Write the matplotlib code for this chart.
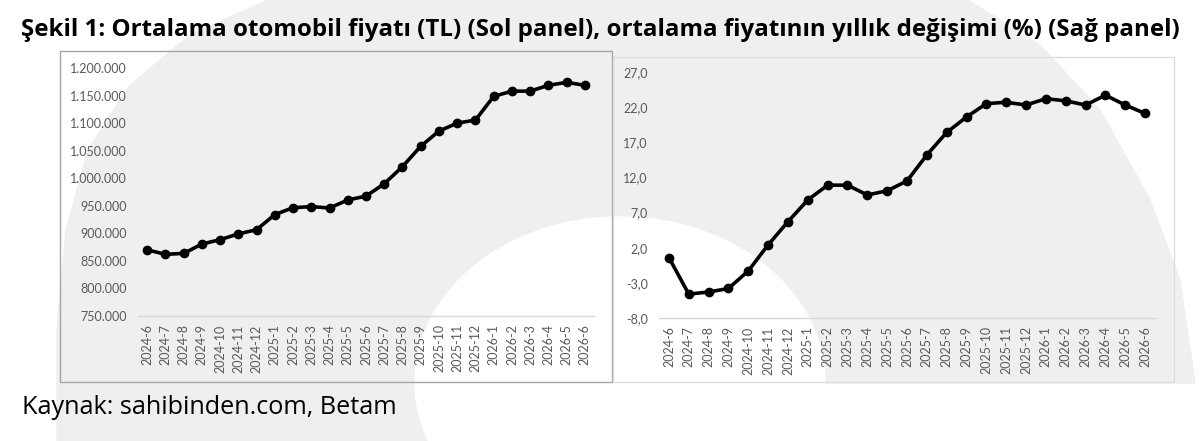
import matplotlib.pyplot as plt
from matplotlib.patches import Ellipse, Rectangle, Polygon
from matplotlib.ticker import FuncFormatter

# === data ===
months = ["2024-6", "2024-7", "2024-8", "2024-9", "2024-10", "2024-11", "2024-12",
          "2025-1", "2025-2", "2025-3", "2025-4", "2025-5", "2025-6", "2025-7",
          "2025-8", "2025-9", "2025-10", "2025-11", "2025-12", "2026-1", "2026-2",
          "2026-3", "2026-4", "2026-5", "2026-6"]

avg_price = [870000, 862000, 863500, 880500, 888500, 899000, 906500,
             934000, 946500, 948500, 946000, 960500, 967500, 990000,
             1021000, 1058000, 1085500, 1100000, 1105500, 1148500, 1158000,
             1158000, 1168500, 1174000, 1168500]

yoy_change = [0.6, -4.6, -4.3, -3.8, -1.3, 2.4, 5.7,
              8.8, 10.9, 10.9, 9.5, 10.1, 11.5, 15.2,
              18.4, 20.6, 22.5, 22.7, 22.3, 23.2, 22.9,
              22.3, 23.7, 22.3, 21.1]

left_ticks = [750000, 800000, 850000, 900000, 950000, 1000000, 1050000,
              1100000, 1150000, 1200000]
right_ticks = [-8.0, -3.0, 2.0, 7.0, 12.0, 17.0, 22.0, 27.0]

W, H = 1200, 441
plt.rcParams['font.family'] = ['Lato', 'DejaVu Sans']

fig = plt.figure(figsize=(W / 100, H / 100), dpi=100)


def fx(px):
    return px / W


def fy(py):
    return 1 - py / H


# === watermark swoosh in the background (pixel outline) ===
outline = [(57, 441), (57, 330), (66, 230), (88, 150), (130, 85), (190, 35), (268, 0),
           (968, 0), (1040, 45), (1100, 110), (1150, 200), (1180, 280), (1195, 383),
           (620, 383), (620, 441)]
fig.patches.append(Polygon([(fx(x), fy(y)) for x, y in outline], closed=True,
                           transform=fig.transFigure, color="#efefef", zorder=-2))
fig.patches.append(Ellipse((fx(620), fy(382)), 410 / W, 330 / H,
                           transform=fig.transFigure, color="white", zorder=-1))

# panel frames
fig.patches.append(Rectangle((fx(60), fy(382)), 552 / W, 331 / H, transform=fig.transFigure,
                             fill=False, edgecolor="#a6a6a6", lw=1.0, zorder=1))
fig.patches.append(Rectangle((fx(613), fy(382)), 561 / W, 325 / H, transform=fig.transFigure,
                             fill=False, edgecolor="#dcdcdc", lw=1.0, zorder=1))

label_color = "#595959"


def style_axis(ax, ticks, ylim, fmt):
    x = range(len(months))
    ax.set_zorder(3)
    ax.set_facecolor("none")
    ax.set_xlim(-0.5, len(months) - 0.5)
    ax.set_ylim(*ylim)
    ax.set_yticks(ticks)
    ax.yaxis.set_major_formatter(FuncFormatter(fmt))
    ax.set_xticks(list(x))
    ax.set_xticklabels(months, rotation=90)
    ax.tick_params(length=0, labelsize=9, colors=label_color, pad=6)
    ax.tick_params(axis="y", pad=8)
    for s in ["top", "right", "left"]:
        ax.spines[s].set_visible(False)
    ax.spines["bottom"].set_color("#d9d9d9")
    ax.spines["bottom"].set_linewidth(1.0)


# === left panel: average price ===
ax1 = fig.add_axes([fx(138), fy(316), 456 / W, 248 / H])
ax1.plot(range(len(months)), avg_price, color="black", lw=2.6,
         marker="o", markersize=6, zorder=3)
style_axis(ax1, left_ticks, (750000, 1200000),
           lambda v, p: f"{int(v):,}".replace(",", "."))

# === right panel: yearly change ===
ax2 = fig.add_axes([fx(659), fy(318), 496 / W, 246 / H])
ax2.plot(range(len(months)), yoy_change, color="black", lw=2.6,
         marker="o", markersize=6, zorder=3)
style_axis(ax2, right_ticks, (-8, 27),
           lambda v, p: f"{v:.1f}".replace(".", ","))

fig.text(fx(21), fy(30), "Şekil 1: Ortalama otomobil fiyatı (TL) (Sol panel), ortalama fiyatının yıllık değişimi (%) (Sağ panel)",
         family=["Open Sans", "DejaVu Sans"], fontsize=17.4, fontweight="bold",
         va="center", ha="left", color="black")
fig.text(fx(22), fy(407), "Kaynak: sahibinden.com, Betam",
         family=["Open Sans", "DejaVu Sans"], fontsize=18.2,
         va="center", ha="left", color="black")

fig.savefig("out.png", dpi=100)
